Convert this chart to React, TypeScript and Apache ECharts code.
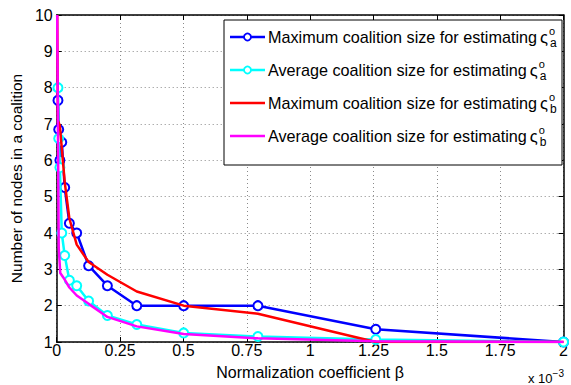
import React, { useEffect, useRef } from "react";
import * as echarts from "echarts";

// beta in units of 1e-3
const maxA: [number, number][] = [
  [0.005, 7.65], [0.0079, 6.85], [0.0126, 6.0], [0.02, 6.5], [0.0316, 5.25], [0.05, 4.27],
  [0.079, 4.0], [0.126, 3.1], [0.2, 2.55], [0.316, 2.0], [0.501, 2.0], [0.794, 2.0],
  [1.259, 1.35], [2.0, 1.0],
];
const avgA: [number, number][] = [
  [0.005, 8.0], [0.0079, 6.6], [0.0126, 5.8], [0.02, 4.0], [0.0316, 3.38], [0.05, 2.7],
  [0.079, 2.55], [0.126, 2.13], [0.2, 1.73], [0.316, 1.48], [0.501, 1.25], [0.794, 1.15],
  [1.259, 1.07], [2.0, 1.0],
];
const maxB: [number, number][] = [
  [0.002, 10], [0.005, 7.1], [0.0126, 6.95], [0.0316, 5.4], [0.05, 4.4], [0.079, 3.68], [0.126, 3.2],
  [0.2, 2.85], [0.316, 2.39], [0.501, 2.0], [0.794, 1.78], [1.259, 1.0], [2.0, 1.0],
];
const avgB: [number, number][] = [
  [0.002, 10], [0.008, 3.6], [0.014, 2.9], [0.0316, 2.72], [0.05, 2.5], [0.079, 2.28],
  [0.126, 2.05], [0.2, 1.69], [0.316, 1.43], [0.501, 1.22], [0.794, 1.1], [1.259, 1.02],
  [2.0, 1.0],
];
const seriesNames = [
  "Maximum coalition size for estimating",
  "Average coalition size for estimating",
  "Maximum coalition size for estimating",
  "Average coalition size for estimating",
];
const seriesSubs = ["a", "a", "b", "b"];
const colors = ["#0000ff", "#00ffff", "#ff0000", "#ff00ff"];
const hasMarker = [true, true, false, false];
const xLabel = "Normalization coefficient β";
const yLabel = "Number of nodes in a coalition";

const FONT = "Liberation Sans, Arial, Helvetica, sans-serif";

export default function App() {
  const ref = useRef<HTMLDivElement>(null);
  useEffect(() => {
    if (!ref.current) return;
    const chart = echarts.init(ref.current, undefined, { renderer: "svg" });
    const gridLine = { show: true, lineStyle: { color: "#8a8a8a", type: [1, 3] as any, width: 1 } };
    const fullName = (i: number) => `${seriesNames[i]} ${seriesSubs[i]}${i}`;
    const mk = (i: number, data: [number, number][]) => ({
      name: fullName(i),
      type: "line",
      data,
      symbol: hasMarker[i] ? "circle" : "none",
      showSymbol: hasMarker[i],
      symbolSize: 9,
      itemStyle: { color: "#fff", borderColor: colors[i], borderWidth: 2 },
      lineStyle: { color: colors[i], width: 2.5 },
      color: colors[i],
      z: 2 + i,
    });
    const axisBase = {
      axisLine: { show: true, onZero: false, lineStyle: { color: "#000", width: 1.5 } },
      axisTick: { show: true, inside: true, length: 5, lineStyle: { color: "#000" } },
    };

    // legend drawn as a boxed key
    const boxX = 224, boxY = 20, boxW = 338, boxH = 145;
    const row0 = 37, rowStep = 33;
    const legendEls: any[] = [
      { type: "rect", shape: { x: boxX, y: boxY, width: boxW, height: boxH }, style: { fill: "#fff", stroke: "#000", lineWidth: 1 }, z: 100 },
    ];
    seriesNames.forEach((name, i) => {
      const y = row0 + rowStep * i;
      legendEls.push({
        type: "line", shape: { x1: boxX + 6, y1: y, x2: boxX + 41, y2: y },
        style: { stroke: colors[i], lineWidth: 2.5 }, z: 101,
      });
      if (hasMarker[i]) {
        legendEls.push({
          type: "circle", shape: { cx: boxX + 23.5, cy: y, r: 3.5 },
          style: { fill: "#fff", stroke: colors[i], lineWidth: 1.8 }, z: 102,
        });
      }
      legendEls.push({
        type: "text", x: boxX + 44, y, z: 102,
        style: {
          text: `{t|${name}}{g|ς}{sup|o}{sub|${seriesSubs[i]}}`,
          verticalAlign: "middle", align: "left",
          rich: {
            t: { fontSize: 16.2, fontFamily: FONT, fill: "#000", lineHeight: 24, verticalAlign: "middle" },
            g: { fontSize: 16.5, fontFamily: FONT, fill: "#000", lineHeight: 24, verticalAlign: "middle", padding: [0, 0, 0, 3] },
            sup: { fontSize: 11, fontFamily: FONT, fill: "#000", lineHeight: 9, verticalAlign: "top", width: 1, padding: [0, 0, 0, 1] },
            sub: { fontSize: 12, fontFamily: FONT, fill: "#000", lineHeight: 9, verticalAlign: "bottom" },
          },
        },
      });
    });

    chart.setOption({
      animation: false,
      backgroundColor: "#fff",
      textStyle: { fontFamily: FONT },
      grid: { left: 53, right: 5, top: 15, bottom: 43, containLabel: false },
      xAxis: [
        {
          type: "value", min: 0, max: 2, interval: 0.25,
          name: xLabel, nameLocation: "middle", nameGap: 22,
          nameTextStyle: { fontSize: 16, color: "#000", fontFamily: FONT },
          ...axisBase,
          axisLabel: { fontSize: 16, color: "#000", margin: 0, fontFamily: FONT },
          splitLine: gridLine,
        },
        {
          type: "value", min: 0, max: 2, interval: 0.25, position: "top",
          ...axisBase,
          axisLabel: { show: false }, splitLine: { show: false },
        },
      ],
      yAxis: [
        {
          type: "value", min: 1, max: 10, interval: 1,
          name: yLabel, nameLocation: "middle", nameGap: 30, nameRotate: 90,
          nameTextStyle: { fontSize: 15.5, color: "#000", fontFamily: FONT },
          ...axisBase,
          axisLabel: { fontSize: 16, color: "#000", margin: 4, fontFamily: FONT },
          splitLine: gridLine,
        },
        {
          type: "value", min: 1, max: 10, interval: 1, position: "right",
          ...axisBase,
          axisLabel: { show: false }, splitLine: { show: false },
        },
      ],
      graphic: [
        ...legendEls,
        {
          type: "text", left: 528, top: 368,
          style: {
            text: "{a|x 10}{b|−3}",
            rich: {
              a: { fontSize: 13, fontFamily: FONT, fill: "#000", lineHeight: 17, verticalAlign: "bottom" },
              b: { fontSize: 10, fontFamily: FONT, fill: "#000", lineHeight: 12, verticalAlign: "top" },
            },
          },
        },
      ],
      series: [mk(0, maxA), mk(1, avgA), mk(2, maxB), mk(3, avgB)],
    });
    return () => chart.dispose();
  }, []);
  return <div ref={ref} style={{ position: "absolute", left: 0, top: 0, width: 571, height: 385 }} />;
}
